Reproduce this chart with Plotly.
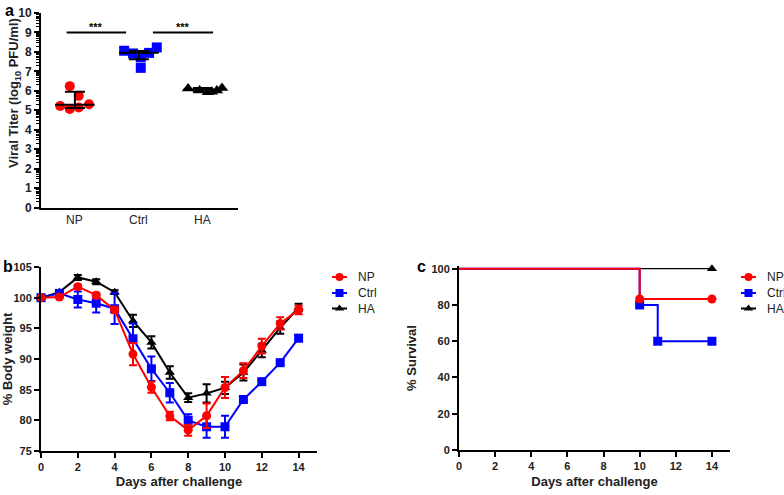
import plotly.graph_objects as go
import numpy as np

W, H = 784, 495
F = "Liberation Sans, Arial, sans-serif"

def fx(p):
    return p / W

def fy(p):
    return 1 - p / H

# ---------------- Panel a data ----------------
groups = ["NP", "Ctrl", "HA"]
np_titer = [6.24, 5.74, 5.22, 5.31, 5.07, 5.14]
np_jitter = [-0.08, 0.06, -0.23, 0.22, -0.08, 0.06]
ctrl_titer = [8.06, 7.92, 7.72, 7.95, 8.23, 7.18]
ctrl_jitter = [-0.23, -0.09, 0.03, 0.16, 0.28, 0.03]
ha_titer = [6.12, 6.02, 5.92, 5.95, 6.02, 6.15]
ha_jitter = [-0.23, -0.05, 0.08, 0.14, 0.22, 0.30]
titer_median = [5.28, 7.95, 6.05]
titer_upper = [5.95, 8.05, 6.15]
titer_lower = [5.12, 7.62, 5.95]
sig_x0 = [-0.13, 1.22]
sig_x1 = [0.80, 2.16]
sig_y = [9.0, 9.0]
sig_label = ["***", "***"]

# ---------------- Panel b data ----------------
days = list(range(15))
bw_np = [100, 100.1, 101.8, 100.4, 98.0, 90.8, 85.4, 80.7, 78.4, 80.75, 85.35, 88.1, 92.1, 95.8, 98.0]
bw_np_err = [0, 0.2, 0.3, 0.4, 0.5, 1.8, 0.9, 0.7, 0.9, 2.0, 1.7, 1.2, 1.2, 1.0, 0.7]
bw_ctrl = [100, 100.7, 99.7, 99.1, 98.2, 93.3, 88.4, 84.5, 80.0, 78.95, 78.95, 83.4, 86.3, 89.4, 93.4]
bw_ctrl_err = [0, 0.2, 1.3, 1.5, 2.5, 2.5, 2.0, 1.6, 1.0, 1.8, 1.8, 0.5, 0.5, 0.4, 0.5]
bw_ha = [100, 100.9, 103.3, 102.6, 100.9, 96.2, 92.7, 87.8, 83.7, 84.4, 85.3, 87.8, 91.4, 95.1, 98.4]
bw_ha_err = [0, 0.2, 0.4, 0.4, 0.3, 1.0, 1.0, 1.0, 0.7, 1.5, 1.0, 1.3, 1.1, 1.0, 0.6]

# ---------------- Panel c data ----------------
surv_days_np = [0, 10, 14]
surv_np = [100, 83.3, 83.3]
surv_days_ctrl = [0, 10, 11, 14]
surv_ctrl = [100, 80, 60, 60]
surv_days_ha = [0, 14]
surv_ha = [100, 100]

legend_names = ["NP", "Ctrl", "HA"]

RED, BLUE, BLACK = "#ff0000", "#0000ff", "#000000"
colors = [RED, BLUE, BLACK]
symbols = ["circle", "square", "triangle-up"]
TXT = "#222222"

fig = go.Figure()

# ----- Panel a -----
pts = [(np_titer, np_jitter), (ctrl_titer, ctrl_jitter), (ha_titer, ha_jitter)]
for i, (vals, jit) in enumerate(pts):
    fig.add_trace(go.Scatter(
        x=[i + j for j in jit], y=vals, mode="markers",
        marker=dict(symbol=symbols[i], color=colors[i], size=10 if i < 2 else 11,
                    line=dict(width=0)),
        xaxis="x", yaxis="y", showlegend=False, cliponaxis=False))
for i in range(3):
    fig.add_trace(go.Scatter(
        x=[i - 0.31, i + 0.31], y=[titer_median[i]] * 2, mode="lines",
        line=dict(color="black", width=2), xaxis="x", yaxis="y", showlegend=False))
fig.add_trace(go.Scatter(
    x=[0, 1, 2], y=titer_median, mode="markers", marker=dict(size=1, color="rgba(0,0,0,0)"),
    error_y=dict(type="data", symmetric=False,
                 array=[u - m for u, m in zip(titer_upper, titer_median)],
                 arrayminus=[m - l for l, m in zip(titer_lower, titer_median)],
                 color="black", thickness=2, width=10),
    xaxis="x", yaxis="y", showlegend=False))
for k in range(len(sig_x0)):
    fig.add_trace(go.Scatter(
        x=[sig_x0[k], sig_x1[k]], y=[sig_y[k]] * 2, mode="lines",
        line=dict(color="black", width=2), xaxis="x", yaxis="y", showlegend=False))
    fig.add_annotation(x=(sig_x0[k] + sig_x1[k]) / 2, y=sig_y[k], xref="x", yref="y",
                       text=sig_label[k], showarrow=False, yanchor="bottom", yshift=-3,
                       font=dict(family=F, size=11, color="black", weight="bold"))
for i, g in enumerate(groups):
    fig.add_annotation(x=i, y=fy(220), xref="x", yref="paper", text=g, showarrow=False,
                       xanchor="center", yanchor="middle",
                       font=dict(family=F, size=12, color=TXT))

# ----- Panel b -----
bw_sets = [(bw_np, bw_np_err), (bw_ctrl, bw_ctrl_err), (bw_ha, bw_ha_err)]
for i in [2, 1, 0]:
    vals, err = bw_sets[i]
    fig.add_trace(go.Scatter(
        x=days, y=vals, mode="lines+markers", name=legend_names[i],
        line=dict(color=colors[i], width=2),
        marker=dict(symbol=symbols[i], color=colors[i], size=9),
        error_y=dict(type="data", array=err, color=colors[i], thickness=2, width=4),
        xaxis="x2", yaxis="y2", showlegend=False, cliponaxis=False))

# ----- Panel c -----
surv_sets = [(surv_days_np, surv_np), (surv_days_ctrl, surv_ctrl), (surv_days_ha, surv_ha)]
for i in [2, 1, 0]:
    d, s = surv_sets[i]
    fig.add_trace(go.Scatter(
        x=d, y=s, mode="lines",
        line=dict(color=colors[i], width=2 if i < 2 else 1.2, shape="hv"),
        xaxis="x3", yaxis="y3", showlegend=False))
    fig.add_trace(go.Scatter(
        x=d[1:], y=s[1:], mode="markers",
        marker=dict(symbol=symbols[i], color=colors[i], size=9),
        xaxis="x3", yaxis="y3", showlegend=False, cliponaxis=False))

# ----- Hand-made legends (overlay pixel axis) -----
legend_rows_y = [277, 293, 308.5]
legend_left = [332, 741]
for lx in legend_left:
    for i in range(3):
        ly = legend_rows_y[i]
        fig.add_trace(go.Scatter(
            x=[lx, lx + 15], y=[ly, ly], mode="lines", line=dict(color=colors[i], width=2),
            xaxis="x4", yaxis="y4", showlegend=False, hoverinfo="skip"))
        fig.add_trace(go.Scatter(
            x=[lx + 7.5], y=[ly], mode="markers",
            marker=dict(symbol=symbols[i], color=colors[i], size=8),
            xaxis="x4", yaxis="y4", showlegend=False, hoverinfo="skip", cliponaxis=False))
        fig.add_annotation(x=fx(lx + 24), y=fy(ly), xref="paper", yref="paper",
                           text=legend_names[i], showarrow=False, xanchor="left",
                           yanchor="middle", font=dict(family=F, size=12, color=TXT))

# ----- Axes -----
tick_font = dict(family=F, size=11, color=TXT, weight="bold")
title_font = dict(family=F, size=13, color=TXT, weight="bold")
base = dict(showline=True, linecolor="black", linewidth=2, ticks="outside", ticklen=5,
            tickwidth=2, tickcolor="black", showgrid=False, zeroline=False,
            tickfont=tick_font, title_font=title_font)

minor_vals = [k + np.log10(j) for k in range(10) for j in range(2, 10)]

fig.update_layout(
    width=W, height=H, margin=dict(l=0, r=0, t=0, b=0, autoexpand=False),
    paper_bgcolor="white", plot_bgcolor="rgba(0,0,0,0)",
    font=dict(family=F, color=TXT),
    xaxis=dict(base, domain=[fx(41), fx(238)], range=[-0.53, 2.55], tickvals=[0, 1, 2],
               showticklabels=False, ticks="", anchor="y"),
    yaxis=dict(base, domain=[fy(207.5), fy(13)], range=[0, 10], dtick=1, anchor="x",
               tickfont=dict(family=F, size=12, color=TXT, weight="bold"),
               minor=dict(tickmode="array", tickvals=minor_vals, ticks="outside",
                          ticklen=3, tickwidth=1, tickcolor="black")),
    xaxis2=dict(base, domain=[fx(41), fx(317)], range=[0, 15], tickvals=list(range(0, 15, 2)),
                anchor="y2", title=dict(text="Days after challenge", standoff=5)),
    yaxis2=dict(base, domain=[fy(451), fy(267)], range=[75, 105], dtick=5, anchor="x2",
                title=dict(text="% Body weight", standoff=6)),
    xaxis3=dict(base, domain=[fx(459), fx(730)], range=[0, 15], tickvals=list(range(0, 15, 2)),
                anchor="y3", ticklen=5, title=dict(text="Days after challenge", standoff=6)),
    yaxis3=dict(base, domain=[fy(450), fy(266)], range=[0, 101.5],
                tickvals=[0, 20, 40, 60, 80, 100], anchor="x3",
                title=dict(text="% Survival", standoff=12)),
    xaxis4=dict(domain=[0, 1], range=[0, W], visible=False, fixedrange=True, anchor="y4"),
    yaxis4=dict(domain=[0, 1], range=[H, 0], visible=False, fixedrange=True, anchor="x4"),
    showlegend=False,
)

fig.add_annotation(x=fx(14), y=fy(93), xref="paper", yref="paper",
                   text="Viral Titer (log<sub>10</sub> PFU/ml)", textangle=-90, showarrow=False,
                   xanchor="center", yanchor="middle", font=title_font)

for txt, xp, yp in [("a", 9, 10), ("b", 8, 266), ("c", 421, 266)]:
    fig.add_annotation(x=fx(xp), y=fy(yp), xref="paper", yref="paper", text=txt,
                       showarrow=False, xanchor="center", yanchor="middle",
                       font=dict(family=F, size=16, color="black", weight="bold"))

fig.write_html("out.html", config={"displayModeBar": False},
               post_script="document.body.style.margin='0';document.body.style.overflow='hidden';")
